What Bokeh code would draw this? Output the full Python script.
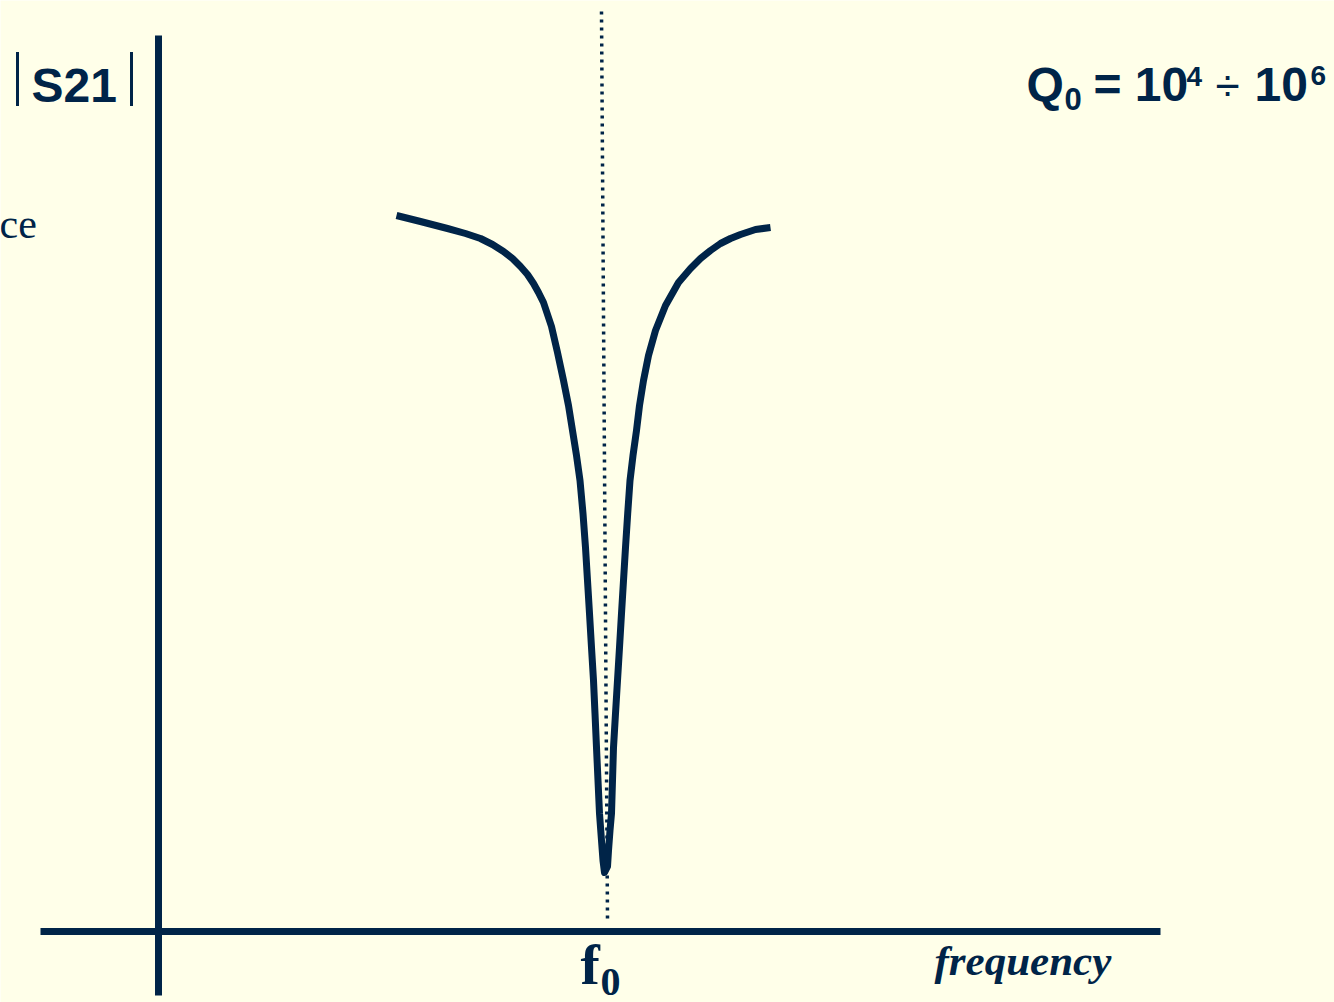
from bokeh.plotting import figure
from bokeh.models import Range1d, Label
from bokeh.embed import file_html
from bokeh.resources import INLINE

# Transmission magnitude |S21| of a high-Q resonator versus frequency offset
# (arbitrary units, f0 at offset 0, baseline of the magnitude axis at 0)
freq_offset = [
    -2.07, -1.83, -1.56, -1.38, -1.23, -1.11, -1.00, -0.91, -0.83, -0.76,
    -0.70, -0.65, -0.60, -0.56, -0.52, -0.49, -0.46, -0.43, -0.40, -0.35,
    -0.31, -0.27, -0.235, -0.205, -0.18, -0.16, -0.14, -0.12, -0.10, -0.085,
    -0.07, -0.055, -0.04, -0.02, -0.005, 0.01,
    0.04, 0.05, 0.065, 0.08, 0.09, 0.10, 0.12, 0.14, 0.16, 0.18,
    0.20, 0.22, 0.242, 0.265, 0.295, 0.33, 0.36, 0.40, 0.45, 0.52,
    0.62, 0.75, 0.87, 0.97, 1.07, 1.17, 1.27, 1.37, 1.52, 1.67,
]
s21_mag = [
    7.16, 7.10, 7.03, 6.98, 6.93, 6.87, 6.80, 6.73, 6.65, 6.57,
    6.48, 6.39, 6.29, 6.17, 6.05, 5.92, 5.79, 5.65, 5.51, 5.26,
    5.01, 4.76, 4.51, 4.18, 3.84, 3.51, 3.18, 2.84, 2.51, 2.18,
    1.84, 1.51, 1.18, 0.91, 0.71, 0.59,
    0.65, 0.81, 1.01, 1.18, 1.51, 1.84, 2.18, 2.51, 2.84, 3.18,
    3.51, 3.84, 4.18, 4.51, 4.76, 5.01, 5.26, 5.51, 5.76, 6.01,
    6.26, 6.49, 6.63, 6.73, 6.81, 6.88, 6.93, 6.97, 7.02, 7.04,
]

# resonance marker (f0) and axis extents
f0_marker_x = [-0.02, 0.04]
f0_marker_y = [9.20, 0.13]
freq_axis_x = [-5.63, 5.57]
freq_axis_y = [0.0, 0.0]
mag_axis_x = [-4.45, -4.45]
mag_axis_y = [8.96, -0.64]

INK = "#002448"
BG = "#FFFFE9"

p = figure(
    width=1334, height=1002,
    x_range=Range1d(-6.03, 7.31), y_range=Range1d(-0.71, 9.31),
    output_backend="svg", toolbar_location=None,
    min_border=0, min_border_left=0, min_border_right=0,
    min_border_top=0, min_border_bottom=0,
)
p.axis.visible = False
p.grid.visible = False
p.outline_line_color = None
p.background_fill_color = BG
p.border_fill_color = BG

# axes
p.line(freq_axis_x, freq_axis_y, line_color=INK, line_width=7)
p.line(mag_axis_x, mag_axis_y, line_color=INK, line_width=7)

# dotted marker at the resonant frequency
p.line(f0_marker_x, f0_marker_y, line_color=INK, line_width=3.5, line_dash="3 5")

# resonance curve
p.line(freq_offset, s21_mag, line_color=INK, line_width=7,
       line_join="round", line_cap="butt")


def px(x):
    return (x - 603) / 100.0


def py(y):
    return (931 - y) / 100.0


def add_text(text, x, baseline, size, font="Liberation Sans", style="bold"):
    # the renderer sits alphabetic text about a third of an em low
    y = baseline - 0.355 * size
    p.add_layout(Label(
        x=px(x), y=py(y), text=text, text_font=font, text_font_style=style,
        text_font_size=f"{size}px", text_color=INK, text_align="left",
        text_baseline="alphabetic",
    ))


# |S21| axis title
add_text("|", 11, 94, 60, font="Liberation Serif", style="normal")
add_text("S21", 31, 102, 48)
add_text("|", 125, 94, 60, font="Liberation Serif", style="normal")

# partially visible side note
add_text("ce", -1, 238, 42, font="Liberation Serif", style="normal")

# quality-factor annotation
add_text("Q", 1026, 101, 48)
add_text("0", 1064, 110, 31)
add_text("= 10", 1093, 101, 48)
add_text("4", 1186, 86, 28)
add_text("÷", 1215, 101, 44, style="normal")
add_text("10", 1254, 101, 48)
add_text("6", 1310, 85, 28)

# frequency axis labels
add_text("f", 580, 985, 58, font="Liberation Serif")
add_text("0", 600, 996, 40, font="Liberation Serif")
add_text("frequency", 934, 975, 43, font="Liberation Serif", style="bold italic")

open("out.html", "w").write(file_html(p, INLINE))
